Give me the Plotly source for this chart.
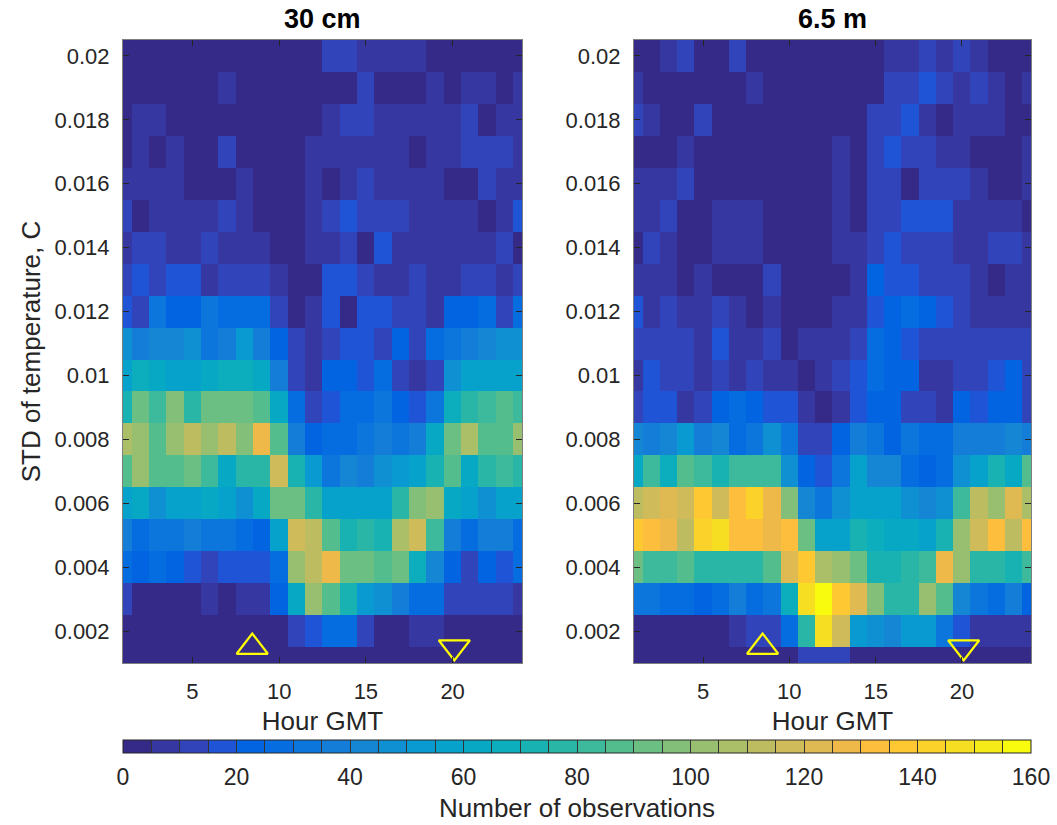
import plotly.graph_objects as go

# ---------------- data ----------------
HOURS = [1, 2, 3, 4, 5, 6, 7, 8, 9, 10, 11, 12, 13, 14, 15, 16, 17, 18, 19, 20, 21, 22, 23, 24]
# STD bin centres, listed top (0.020) to bottom (0.001)
STD_BINS = [0.020, 0.019, 0.018, 0.017, 0.016, 0.015, 0.014, 0.013, 0.012, 0.011,
            0.010, 0.009, 0.008, 0.007, 0.006, 0.005, 0.004, 0.003, 0.002, 0.001]

COUNTS_30CM = [
    [4, 4, 4, 4, 4, 4, 4, 4, 4, 4, 4, 4, 12, 12, 8, 8, 8, 8, 4, 4, 4, 4, 4, 4],
    [4, 4, 4, 4, 4, 4, 9, 4, 4, 4, 4, 4, 3, 3, 10, 2, 2, 2, 7, 3, 8, 8, 3, 7],
    [4, 8, 8, 4, 4, 4, 4, 4, 4, 4, 4, 4, 7, 12, 12, 8, 7, 7, 7, 7, 14, 2, 9, 6],
    [3, 7, 2, 7, 4, 4, 11, 4, 4, 4, 4, 7, 7, 7, 7, 9, 9, 2, 7, 7, 10, 10, 10, 6],
    [7, 7, 7, 7, 4, 4, 4, 9, 4, 4, 4, 6, 2, 8, 11, 9, 9, 9, 6, 2, 2, 10, 5, 8],
    [11, 2, 7, 7, 9, 9, 12, 7, 4, 4, 4, 5, 13, 18, 14, 12, 12, 6, 9, 7, 7, 2, 6, 15],
    [8, 14, 14, 5, 9, 12, 9, 9, 6, 3, 3, 5, 5, 11, 3, 18, 9, 9, 9, 9, 6, 9, 11, 4],
    [12, 16, 13, 19, 19, 9, 13, 13, 13, 6, 2, 2, 15, 15, 12, 9, 7, 14, 8, 8, 14, 11, 7, 13],
    [18, 11, 32, 24, 24, 31, 26, 26, 26, 14, 2, 6, 15, 4, 18, 15, 12, 12, 9, 21, 21, 25, 12, 25],
    [48, 37, 40, 40, 47, 32, 36, 53, 38, 22, 12, 8, 10, 18, 18, 11, 24, 11, 25, 31, 37, 40, 45, 45],
    [57, 68, 62, 55, 55, 60, 68, 68, 60, 37, 11, 6, 22, 22, 18, 25, 12, 9, 14, 48, 58, 58, 58, 58],
    [72, 92, 80, 97, 78, 92, 92, 92, 85, 62, 25, 11, 15, 25, 25, 30, 21, 15, 32, 67, 75, 82, 86, 80],
    [108, 103, 88, 102, 112, 100, 113, 97, 127, 87, 37, 23, 27, 29, 32, 38, 30, 37, 62, 92, 108, 88, 87, 104],
    [87, 100, 85, 85, 93, 83, 63, 75, 78, 117, 73, 53, 32, 40, 35, 45, 52, 57, 73, 88, 62, 77, 83, 78],
    [57, 60, 48, 57, 57, 63, 58, 48, 63, 92, 90, 78, 55, 55, 57, 57, 75, 95, 102, 60, 55, 47, 57, 57],
    [37, 25, 32, 30, 35, 32, 32, 26, 23, 57, 117, 112, 87, 72, 77, 70, 105, 118, 80, 35, 28, 38, 38, 27],
    [25, 21, 27, 22, 16, 13, 19, 15, 19, 29, 102, 113, 128, 93, 93, 88, 93, 68, 42, 23, 14, 23, 17, 25],
    [11, 3, 3, 3, 3, 6, 3, 8, 8, 21, 62, 102, 88, 72, 52, 45, 35, 28, 25, 14, 10, 10, 10, 6],
    [3, 3, 3, 3, 3, 3, 3, 3, 3, 3, 13, 18, 25, 25, 12, 3, 3, 7, 7, 2, 2, 2, 2, 2],
    [3, 3, 3, 3, 3, 3, 3, 3, 3, 3, 3, 3, 3, 3, 3, 3, 3, 3, 3, 3, 3, 3, 3, 3],
]

COUNTS_6_5M = [
    [4, 4, 9, 13, 4, 4, 10, 4, 4, 4, 4, 4, 4, 4, 4, 7, 7, 10, 7, 12, 8, 3, 3, 3],
    [9, 4, 4, 4, 4, 4, 4, 9, 4, 4, 4, 4, 4, 4, 4, 11, 11, 17, 11, 7, 12, 8, 3, 9],
    [12, 9, 4, 4, 12, 4, 4, 4, 4, 4, 4, 4, 4, 4, 11, 11, 15, 8, 2, 8, 8, 8, 4, 4],
    [3, 3, 3, 8, 4, 4, 4, 4, 4, 4, 4, 4, 8, 4, 12, 15, 10, 12, 9, 7, 3, 3, 3, 9],
    [7, 7, 7, 11, 4, 4, 4, 4, 4, 4, 4, 4, 8, 4, 12, 12, 2, 10, 10, 10, 7, 3, 3, 7],
    [7, 7, 10, 3, 3, 8, 8, 8, 4, 4, 4, 4, 7, 2, 10, 12, 15, 15, 15, 6, 9, 7, 7, 3],
    [3, 14, 7, 3, 3, 8, 8, 8, 4, 4, 4, 4, 7, 7, 12, 17, 11, 14, 10, 9, 6, 10, 10, 8],
    [9, 7, 7, 3, 9, 3, 3, 3, 10, 4, 4, 4, 4, 6, 22, 17, 17, 14, 14, 11, 8, 2, 7, 7],
    [15, 9, 12, 9, 9, 13, 7, 3, 7, 3, 3, 3, 7, 9, 15, 20, 25, 22, 15, 11, 9, 9, 9, 7],
    [10, 12, 12, 10, 7, 15, 9, 6, 12, 3, 7, 7, 9, 14, 25, 22, 17, 14, 14, 12, 12, 12, 14, 10],
    [5, 17, 13, 10, 5, 12, 6, 11, 8, 8, 3, 6, 11, 17, 27, 24, 24, 9, 9, 10, 12, 15, 21, 12],
    [10, 18, 18, 8, 14, 21, 25, 20, 18, 18, 8, 3, 8, 18, 21, 23, 12, 12, 9, 21, 17, 24, 24, 12],
    [40, 35, 40, 52, 35, 40, 25, 30, 48, 30, 12, 12, 23, 37, 30, 24, 32, 27, 25, 37, 37, 37, 42, 37],
    [62, 80, 67, 85, 80, 73, 80, 80, 80, 48, 22, 17, 30, 55, 40, 42, 28, 23, 25, 47, 55, 72, 62, 88],
    [110, 117, 122, 115, 137, 117, 132, 142, 128, 97, 42, 33, 45, 57, 57, 55, 45, 42, 47, 80, 112, 100, 123, 108],
    [137, 130, 127, 113, 143, 148, 133, 133, 128, 132, 93, 55, 55, 70, 65, 62, 63, 57, 72, 102, 115, 133, 113, 132],
    [92, 80, 80, 87, 75, 78, 78, 78, 85, 122, 138, 108, 100, 90, 73, 73, 75, 80, 125, 103, 75, 75, 70, 82],
    [33, 30, 27, 27, 22, 27, 38, 25, 30, 68, 147, 157, 137, 122, 97, 75, 78, 102, 87, 42, 33, 25, 35, 20],
    [3, 3, 3, 3, 3, 3, 8, 12, 12, 25, 78, 147, 117, 53, 45, 40, 52, 52, 33, 17, 8, 6, 6, 9],
    [3, 3, 3, 3, 3, 3, 3, 3, 3, 3, 11, 11, 11, 3, 3, 3, 3, 3, 3, 3, 3, 3, 3, 3],
]

SUNRISE_HOUR = [8.45]
SUNSET_HOUR = [20.1]
MARKER_STD = [0.0015]

PANEL_TITLES = ["30 cm", "6.5 m"]
X_TICKS = [5, 10, 15, 20]
Y_TICKS = [0.002, 0.004, 0.006, 0.008, 0.010, 0.012, 0.014, 0.016, 0.018, 0.020]
Y_TICK_TEXT = ["0.002", "0.004", "0.006", "0.008", "0.01", "0.012", "0.014", "0.016", "0.018", "0.02"]
CB_TICKS = [0, 20, 40, 60, 80, 100, 120, 140, 160]

# ---------------- style: parula (64 base entries) ----------------
PARULA_BASE = [
    (0.2081, 0.1663, 0.5292), (0.2116, 0.1898, 0.5777), (0.2123, 0.2138, 0.6270), (0.2081, 0.2386, 0.6771),
    (0.1959, 0.2645, 0.7279), (0.1707, 0.2919, 0.7792), (0.1253, 0.3242, 0.8303), (0.0591, 0.3598, 0.8683),
    (0.0117, 0.3875, 0.8820), (0.0060, 0.4086, 0.8828), (0.0165, 0.4266, 0.8786), (0.0329, 0.4430, 0.8720),
    (0.0498, 0.4586, 0.8641), (0.0629, 0.4737, 0.8554), (0.0723, 0.4887, 0.8467), (0.0779, 0.5040, 0.8384),
    (0.0793, 0.5200, 0.8312), (0.0749, 0.5375, 0.8263), (0.0641, 0.5570, 0.8240), (0.0488, 0.5772, 0.8228),
    (0.0343, 0.5966, 0.8199), (0.0265, 0.6137, 0.8135), (0.0239, 0.6287, 0.8038), (0.0231, 0.6418, 0.7913),
    (0.0228, 0.6535, 0.7768), (0.0267, 0.6642, 0.7607), (0.0384, 0.6743, 0.7436), (0.0590, 0.6838, 0.7254),
    (0.0843, 0.6928, 0.7062), (0.1133, 0.7015, 0.6859), (0.1453, 0.7098, 0.6646), (0.1801, 0.7177, 0.6424),
    (0.2178, 0.7250, 0.6193), (0.2586, 0.7317, 0.5954), (0.3022, 0.7376, 0.5712), (0.3482, 0.7424, 0.5473),
    (0.3953, 0.7459, 0.5244), (0.4420, 0.7481, 0.5033), (0.4871, 0.7491, 0.4840), (0.5300, 0.7491, 0.4661),
    (0.5709, 0.7485, 0.4494), (0.6099, 0.7473, 0.4337), (0.6473, 0.7456, 0.4188), (0.6834, 0.7435, 0.4044),
    (0.7184, 0.7411, 0.3905), (0.7525, 0.7384, 0.3768), (0.7858, 0.7356, 0.3633), (0.8185, 0.7327, 0.3498),
    (0.8507, 0.7299, 0.3360), (0.8824, 0.7274, 0.3217), (0.9139, 0.7258, 0.3063), (0.9450, 0.7261, 0.2886),
    (0.9739, 0.7314, 0.2666), (0.9938, 0.7455, 0.2403), (0.9990, 0.7653, 0.2164), (0.9955, 0.7861, 0.1967),
    (0.9880, 0.8066, 0.1794), (0.9789, 0.8271, 0.1633), (0.9697, 0.8481, 0.1475), (0.9626, 0.8705, 0.1309),
    (0.9589, 0.8949, 0.1132), (0.9598, 0.9218, 0.0948), (0.9661, 0.9514, 0.0755), (0.9763, 0.9831, 0.0538),
]
N_LEVELS = 32
CMIN, CMAX = 0, 160


def parula(n):
    out = []
    m = len(PARULA_BASE)
    for i in range(n):
        t = i / (n - 1) * (m - 1)
        k = min(int(t), m - 2)
        f = t - k
        a, b = PARULA_BASE[k], PARULA_BASE[k + 1]
        c = [a[j] + (b[j] - a[j]) * f for j in range(3)]
        out.append("rgb(%d,%d,%d)" % tuple(round(v * 255) for v in c))
    return out


cols = parula(N_LEVELS)
colorscale = []
for i, c in enumerate(cols):
    colorscale.append([i / N_LEVELS, c])
    colorscale.append([(i + 1) / N_LEVELS, c])
clear_scale = [[0, "rgba(0,0,0,0)"], [1, "rgba(0,0,0,0)"]]

FONT = "Liberation Sans, Arial, Helvetica, sans-serif"
TXT = "#262626"

fig = go.Figure()

panels = [(COUNTS_30CM, "x", "y"), (COUNTS_6_5M, "x2", "y2")]
for z, xa, ya in panels:
    fig.add_trace(go.Heatmap(
        x=HOURS, y=STD_BINS[::-1], z=z[::-1], coloraxis="coloraxis",
        xaxis=xa, yaxis=ya,
    ))
    fig.add_trace(go.Scatter(
        x=SUNRISE_HOUR, y=MARKER_STD, mode="markers", xaxis=xa, yaxis=ya,
        marker=dict(symbol="triangle-up-open", size=27, color="#FFFF00",
                    line=dict(width=2.2, color="#FFFF00")),
        showlegend=False, cliponaxis=False, hoverinfo="skip",
    ))
    fig.add_trace(go.Scatter(
        x=SUNSET_HOUR, y=MARKER_STD, mode="markers", xaxis=xa, yaxis=ya,
        marker=dict(symbol="triangle-down-open", size=27, color="#FFFF00",
                    line=dict(width=2.2, color="#FFFF00")),
        showlegend=False, cliponaxis=False, hoverinfo="skip",
    ))

# transparent copy that only carries the labelled colour bar
fig.add_trace(go.Heatmap(
    x=HOURS, y=STD_BINS[::-1], z=COUNTS_30CM[::-1], coloraxis="coloraxis2",
    xaxis="x", yaxis="y", opacity=0, hoverinfo="skip",
))

W, H = 1057, 825
L, R, T, B = 123, 26, 40, 162
pw = W - L - R
ph = H - T - B
left_dom = [0, (522 - L) / pw]
right_dom = [(634 - L) / pw, 1]
cb_y = -(740 - (H - B)) / ph

axis_common = dict(
    range=[1, 24], tickvals=X_TICKS, ticks="inside", ticklen=6, tickcolor=TXT,
    showline=True, mirror="ticks", linecolor="#7f7f7f", linewidth=1,
    showgrid=False, zeroline=False, tickfont=dict(size=22, color=TXT, family=FONT),
    title=dict(text="Hour GMT", font=dict(size=26, color=TXT, family=FONT), standoff=8),
    ticklabelstandoff=9,
)
yaxis_common = dict(
    range=[0.001, 0.0205], tickvals=Y_TICKS, ticktext=Y_TICK_TEXT, ticks="inside", ticklen=6,
    tickcolor=TXT, showline=True, mirror="ticks", linecolor="#7f7f7f", linewidth=1,
    showgrid=False, zeroline=False, tickfont=dict(size=22, color=TXT, family=FONT),
    ticklabelstandoff=8,
)

cb_common = dict(
    orientation="h", x=0.5, xanchor="center", y=cb_y, yanchor="top",
    len=1, lenmode="fraction", thickness=13, xpad=0, ypad=0,
)

fig.update_layout(
    width=W, height=H,
    margin=dict(l=L, r=R, t=T, b=B, autoexpand=False),
    paper_bgcolor="white", plot_bgcolor="white",
    font=dict(family=FONT, color=TXT),
    showlegend=False,
    xaxis=dict(domain=left_dom, anchor="y", **axis_common),
    xaxis2=dict(domain=right_dom, anchor="y2", **axis_common),
    yaxis=dict(domain=[0, 1], anchor="x",
               title=dict(text="STD of temperature, C", font=dict(size=26, color=TXT, family=FONT), standoff=6),
               **yaxis_common),
    yaxis2=dict(domain=[0, 1], anchor="x2", **yaxis_common),
    coloraxis=dict(
        colorscale=colorscale, cmin=CMIN, cmax=CMAX,
        colorbar=dict(
            outlinewidth=1, outlinecolor=TXT,
            tickvals=list(range(CMIN, CMAX + 1, 5)), showticklabels=False,
            ticks="inside", ticklen=13, tickwidth=1, tickcolor="#333333",
            **cb_common,
        ),
    ),
    coloraxis2=dict(
        colorscale=clear_scale, cmin=CMIN, cmax=CMAX,
        colorbar=dict(
            outlinewidth=0, tickvals=CB_TICKS,
            ticks="outside", ticklen=5, tickcolor="rgba(0,0,0,0)",
            tickfont=dict(size=23, color=TXT, family=FONT),
            **cb_common,
        ),
    ),
)

for t, xa in zip(PANEL_TITLES, ["x", "x2"]):
    fig.add_annotation(
        text="<b>%s</b>" % t, xref="%s domain" % xa, yref="paper", x=0.5, y=1,
        xanchor="center", yanchor="bottom", yshift=4, showarrow=False,
        font=dict(size=27, color="#000000", family=FONT),
    )

# colour-bar label
fig.add_annotation(
    text="Number of observations", xref="paper", yref="paper", x=0.5,
    y=-(824 - (H - B)) / ph, xanchor="center", yanchor="bottom", showarrow=False,
    borderpad=0, font=dict(size=26, color=TXT, family=FONT),
)

fig.write_html("out.html")
